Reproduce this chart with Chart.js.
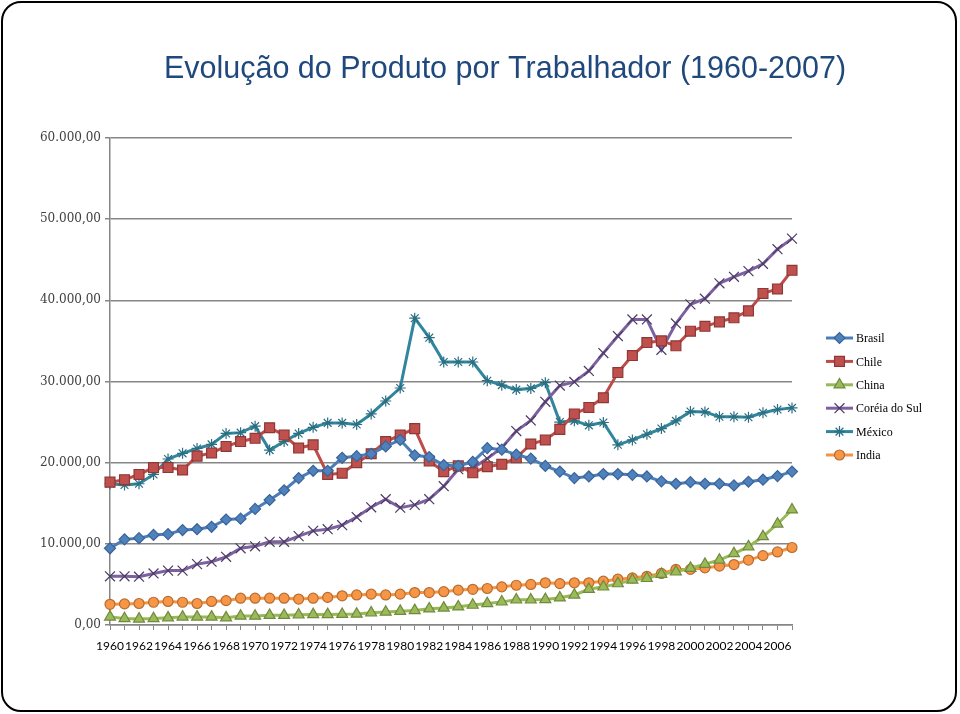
<!DOCTYPE html>
<html>
<head>
<meta charset="utf-8">
<title>Evolução do Produto por Trabalhador (1960-2007)</title>
<script src="https://cdn.jsdelivr.net/npm/chart.js@4.4.1/dist/chart.umd.min.js"></script>
<style>
  html, body { margin: 0; padding: 0; background: #fff; }
  #wrap { position: relative; width: 960px; height: 714px; }
  #frame { position: absolute; left: 1px; top: 1px; width: 952px; height: 707px;
           border: 2px solid #000; border-radius: 20px; pointer-events: none; }
  canvas { position: absolute; left: 0; top: 0; }
</style>
</head>
<body>
<div id="wrap">
  <canvas id="chart" width="960" height="714"></canvas>
  <div id="frame"></div>
</div>
<script>
// categories
const years = [1960, 1961, 1962, 1963, 1964, 1965, 1966, 1967, 1968, 1969,
               1970, 1971, 1972, 1973, 1974, 1975, 1976, 1977, 1978, 1979,
               1980, 1981, 1982, 1983, 1984, 1985, 1986, 1987, 1988, 1989,
               1990, 1991, 1992, 1993, 1994, 1995, 1996, 1997, 1998, 1999,
               2000, 2001, 2002, 2003, 2004, 2005, 2006, 2007];

// series (produto por trabalhador)
const brasil = [9450, 10550, 10700, 11100, 11200, 11700, 11800, 12100, 13000, 13100,
                14300, 15400, 16600, 18100, 19000, 19000, 20600, 20800, 21100, 22000,
                22800, 20900, 20700, 19700, 19600, 20100, 21800, 21600, 21000, 20500,
                19600, 18900, 18100, 18300, 18600, 18600, 18500, 18300, 17700, 17400,
                17600, 17400, 17400, 17200, 17650, 17900, 18350, 18900];
const chile = [17600, 17900, 18550, 19400, 19400, 19100, 20800, 21200, 22000, 22600,
               23000, 24300, 23400, 21800, 22200, 18550, 18700, 20000, 21100, 22600,
               23400, 24200, 20200, 18900, 19600, 18750, 19500, 19800, 20600, 22300,
               22800, 24100, 26000, 26800, 28000, 31100, 33200, 34800, 35000, 34400,
               36200, 36800, 37350, 37850, 38700, 40850, 41400, 43700];
const china = [1000, 800, 750, 800, 900, 1000, 1000, 1000, 900, 1100,
               1100, 1200, 1200, 1250, 1300, 1300, 1320, 1350, 1500, 1600,
               1700, 1800, 2000, 2100, 2250, 2450, 2650, 2850, 3100, 3100,
               3150, 3350, 3700, 4400, 4700, 5100, 5550, 5750, 6250, 6550,
               7000, 7500, 8000, 8800, 9650, 10900, 12450, 14200];
const coreia = [6000, 6000, 5950, 6350, 6700, 6700, 7500, 7800, 8400, 9450,
                9700, 10250, 10250, 10950, 11600, 11800, 12300, 13300, 14500, 15500,
                14450, 14800, 15500, 17100, 19200, 19300, 20500, 21850, 23900, 25200,
                27500, 29500, 29950, 31300, 33500, 35600, 37650, 37650, 33900, 37150,
                39500, 40200, 42100, 42900, 43600, 44500, 46300, 47600];
const mexico = [17400, 17250, 17400, 18550, 20450, 21150, 21750, 22250, 23600, 23700,
                24500, 21550, 22600, 23600, 24350, 24900, 24900, 24700, 26000, 27600,
                29200, 37800, 35400, 32400, 32400, 32400, 30100, 29550, 29000, 29150,
                29850, 25000, 25150, 24600, 24950, 22200, 22800, 23500, 24200, 25150,
                26300, 26250, 25650, 25650, 25600, 26150, 26550, 26750];
const india = [2550, 2600, 2650, 2800, 2900, 2800, 2650, 2900, 3000, 3300,
               3300, 3300, 3300, 3200, 3300, 3400, 3600, 3700, 3800, 3700,
               3800, 4000, 4000, 4100, 4300, 4400, 4500, 4700, 4900, 5000,
               5200, 5100, 5200, 5200, 5400, 5650, 5800, 6000, 6350, 6850,
               6850, 7050, 7250, 7450, 8000, 8550, 9000, 9550];

// y axis ticks
const yTicks = [0, 10000, 20000, 30000, 40000, 50000, 60000];

function fmtBR(v) {
    const parts = v.toFixed(2).split(".");
    return parts[0].replace(/\B(?=(\d{3})+$)/g, ".") + "," + parts[1];
}

function serie(label, data, line, fill, edge, style, radius) {
    return {
        label: label,
        data: data,
        borderColor: line,
        backgroundColor: fill,
        borderWidth: 3,
        tension: 0,
        pointStyle: style,
        pointRadius: radius,
        pointBackgroundColor: fill,
        pointBorderColor: edge,
        pointBorderWidth: 1.2,
        clip: false
    };
}

// legend at the right: line + marker + name
const sideLegend = {
    id: "sideLegend",
    afterDraw(chart) {
        const ctx = chart.ctx;
        chart.data.datasets.forEach((ds, i) => {
            const y = 338 + i * 23.4;
            ctx.save();
            ctx.strokeStyle = ds.borderColor;
            ctx.lineWidth = 3;
            ctx.beginPath();
            ctx.moveTo(826, y);
            ctx.lineTo(853, y);
            ctx.stroke();
            ctx.fillStyle = ds.pointBackgroundColor;
            ctx.strokeStyle = ds.pointBorderColor;
            ctx.lineWidth = ds.pointBorderWidth;
            Chart.helpers.drawPoint(ctx, {
                pointStyle: ds.pointStyle,
                radius: ds.pointRadius,
                borderWidth: ds.pointBorderWidth,
                rotation: 0
            }, 839.5, y);
            ctx.fillStyle = "#000";
            ctx.font = "12px 'Liberation Serif', serif";
            ctx.textBaseline = "middle";
            ctx.textAlign = "left";
            ctx.fillText(ds.label, 856, y + 1);
            ctx.restore();
        });
    }
};

const ctx = document.getElementById("chart").getContext("2d");
new Chart(ctx, {
    type: "line",
    data: {
        labels: years,
        datasets: [
            serie("Brasil", brasil, "#4A7EBB", "#4F81BD", "#3A6496", "rectRot", 5.5),
            serie("Chile", chile, "#BE4B48", "#C0504D", "#8C3836", "rect", 7),
            serie("China", china, "#98B954", "#9BBB59", "#71893F", "triangle", 6.3),
            serie("Coréia do Sul", coreia, "#7D60A0", "#8064A2", "#4B3A63", "crossRot", 7),
            serie("México", mexico, "#31859C", "#4BACC6", "#2A6F82", "star", 5.5),
            serie("India", india, "#F69240", "#F79646", "#B66D31", "circle", 5)
        ]
    },
    options: {
        responsive: false,
        animation: false,
        devicePixelRatio: 1,
        // uneven side padding keeps the title centred where the original has it
        layout: { padding: { left: 36, right: -14, top: 0, bottom: 0 } },
        plugins: {
            legend: { display: false },
            tooltip: { enabled: false },
            title: {
                display: true,
                text: "Evolução do Produto por Trabalhador (1960-2007)",
                color: "#1F497D",
                font: { family: "'Liberation Sans', Arial, sans-serif", size: 30.5, weight: "normal", lineHeight: 1.2 },
                padding: { top: 51, bottom: 50.4 }
            }
        },
        scales: {
            x: {
                grid: { display: true, drawOnChartArea: false, drawTicks: true, tickLength: 5, color: "#868686", lineWidth: 1 },
                border: { display: true, color: "#868686", width: 1.5 },
                ticks: {
                    autoSkip: false,
                    maxRotation: 0,
                    minRotation: 0,
                    padding: 9,
                    color: "#000",
                    font: { family: "Lato, sans-serif", size: 12 },
                    callback: (v, i) => (i % 2 === 0 ? String(years[i]) : "")
                },
                afterFit: s => { s.height = 714 - 625; }
            },
            y: {
                min: 0,
                max: 60000,
                afterBuildTicks: s => { s.ticks = yTicks.map(v => ({ value: v })); },
                grid: { color: "#868686", lineWidth: 1.5, drawTicks: true, tickLength: 5 },
                border: { display: true, color: "#868686", width: 1.5 },
                ticks: {
                    padding: 4,
                    color: "#404040",
                    font: { family: "'DejaVu Serif', serif", size: 12 },
                    callback: v => fmtBR(v)
                },
                afterFit: s => { s.width = 110 - 36; }
            },
            yRight: {
                position: "right",
                display: true,
                grid: { display: false, drawTicks: false },
                border: { display: false },
                ticks: { display: false },
                afterFit: s => { s.width = 974 - 792; }
            }
        }
    },
    plugins: [sideLegend]
});
</script>
</body>
</html>
